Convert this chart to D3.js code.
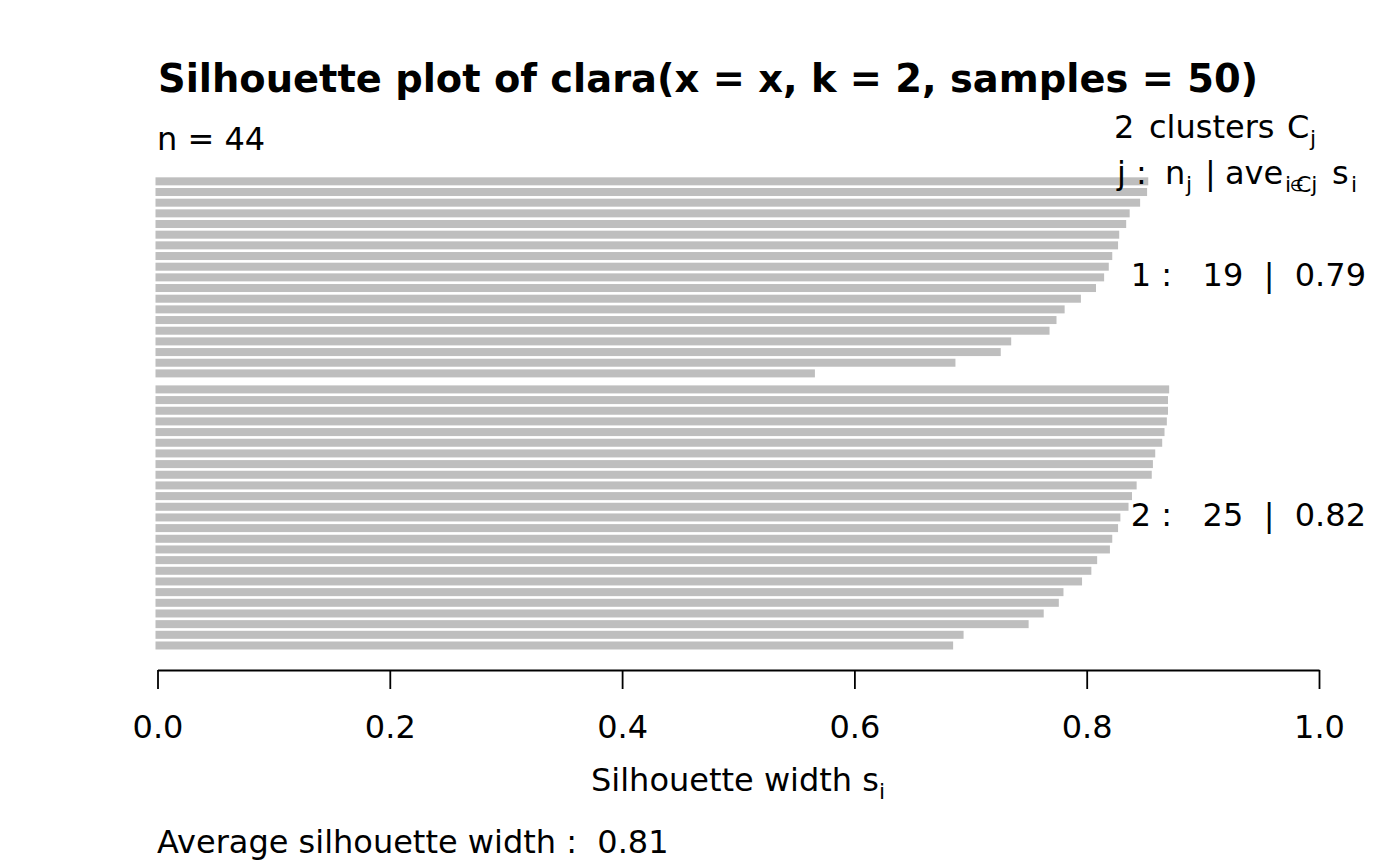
<!DOCTYPE html>
<html>
<head>
<meta charset="utf-8">
<script src="https://cdn.jsdelivr.net/npm/d3@7"></script>
<style>
  html, body { margin: 0; padding: 0; background: #fff; }
  svg { display: block; }
  text { font-family: "DejaVu Sans", sans-serif; fill: #000; white-space: pre; }
</style>
</head>
<body>
<svg id="chart" width="1400" height="866"></svg>
<script>
// ---- data ----
const clusterIds = [1, 2];
const cluster1 = [0.853, 0.852, 0.846, 0.837, 0.834, 0.828, 0.827, 0.822, 0.819, 0.815,
                  0.808, 0.795, 0.781, 0.774, 0.768, 0.735, 0.726, 0.687, 0.566];
const cluster2 = [0.871, 0.870, 0.870, 0.869, 0.867, 0.865, 0.859, 0.857, 0.856, 0.843,
                  0.839, 0.836, 0.829, 0.827, 0.822, 0.820, 0.809, 0.804, 0.796, 0.780,
                  0.776, 0.763, 0.750, 0.694, 0.685];
const clusterAvg = ["0.79", "0.82"];
const xTicks = [0, 0.2, 0.4, 0.6, 0.8, 1.0];
const titleText = "Silhouette plot of clara(x = x, k = 2, samples = 50)";
const overallAvg = "0.81";

// ---- layout ----
const svg = d3.select("#chart");
const x = d3.scaleLinear().domain([0, 1]).range([157.5, 1319]);
const clusterGap = 0.5;
const clusters = [cluster1, cluster2];

const bars = [];
const clusterCenters = [];
let pos = 0;
clusters.forEach((vals, ci) => {
  if (ci > 0) pos += clusterGap;
  const start = pos;
  vals.forEach(v => { bars.push({ v, pos, cluster: ci }); pos += 1; });
  clusterCenters.push((start + pos) / 2);
});
const totalUnits = pos;
const y = d3.scaleLinear().domain([0, totalUnits]).range([176, 176 + totalUnits * 10.67]);
const inset = 1.33;

svg.append("g").selectAll("rect").data(bars).join("rect")
  .attr("x", x(0) - 2)
  .attr("y", d => y(d.pos) + inset)
  .attr("width", d => x(d.v) - x(0) + 2)
  .attr("height", d => y(d.pos + 1) - y(d.pos) - 2 * inset)
  .attr("fill", "#bebebe");

// x axis
const axisY = 670;
const axis = d3.axisBottom(x).tickValues(xTicks).tickFormat(d3.format(".1f")).tickSize(19).tickSizeOuter(0);
const gAxis = svg.append("g").attr("transform", `translate(0,${axisY})`).call(axis);
gAxis.select(".domain").attr("stroke", "#000").attr("stroke-width", 1.8);
gAxis.selectAll(".tick line").attr("stroke", "#000").attr("stroke-width", 1.8);
gAxis.selectAll(".tick text").attr("font-size", 32).attr("font-family", "DejaVu Sans")
  .attr("fill", "#000").attr("y", 0).attr("dy", 0)
  .attr("transform", "translate(0,68)");

// title
svg.append("text").attr("x", 158).attr("y", 92).attr("font-size", 38.4)
  .attr("font-weight", "bold").text(titleText);

// n =
const nTotal = cluster1.length + cluster2.length;
svg.append("text").attr("x", 157).attr("y", 150).attr("font-size", 32).text("n = " + nTotal);

// legend header line 1
const h1 = svg.append("text").attr("y", 138).attr("font-size", 32);
h1.append("tspan").attr("x", 1114).text(String(clusters.length));
h1.append("tspan").attr("x", 1149).text("clusters");
h1.append("tspan").attr("x", 1287).text("C");
h1.append("tspan").attr("x", 1310).attr("font-size", 22).attr("dy", 8).text("j");

// legend header line 2 (one text element, positioned pieces)
const base2 = 184;
const h2 = svg.append("text").attr("y", base2).attr("font-size", 32);
h2.append("tspan").attr("x", 1117).text("j");
h2.append("tspan").attr("x", 1136).text(":");
h2.append("tspan").attr("x", 1165).text("n");
h2.append("tspan").attr("x", 1186).attr("y", base2 + 8).attr("font-size", 22).text("j");
h2.append("tspan").attr("x", 1205).attr("y", base2).text("|");
h2.append("tspan").attr("x", 1225).attr("y", base2).text("ave");
h2.append("tspan").attr("x", 1285).attr("y", base2 + 8).attr("font-size", 22).text("i");
h2.append("tspan").attr("x", 1290).attr("y", base2 + 7).attr("font-size", 16).text("\u2208");
h2.append("tspan").attr("x", 1296).attr("y", base2 + 8).attr("font-size", 22).text("Cj");
h2.append("tspan").attr("x", 1332).attr("y", base2).text("s");
h2.append("tspan").attr("x", 1351).attr("y", base2 + 8).attr("font-size", 22).text("i");

// cluster labels
clusters.forEach((vals, ci) => {
  svg.append("text")
    .attr("x", 1366).attr("y", y(clusterCenters[ci]) + 9)
    .attr("text-anchor", "end").attr("font-size", 32)
    .text(`${clusterIds[ci]} :   ${vals.length}  |  ${clusterAvg[ci]}`);
});

// x label
const xl = svg.append("text").attr("x", 591).attr("y", 791).attr("font-size", 32);
xl.append("tspan").text("Silhouette width s");
xl.append("tspan").attr("font-size", 22).attr("dy", 8).text("i");

// average
svg.append("text").attr("x", 157).attr("y", 853).attr("font-size", 32)
  .text("Average silhouette width :  " + overallAvg);
</script>
</body>
</html>
